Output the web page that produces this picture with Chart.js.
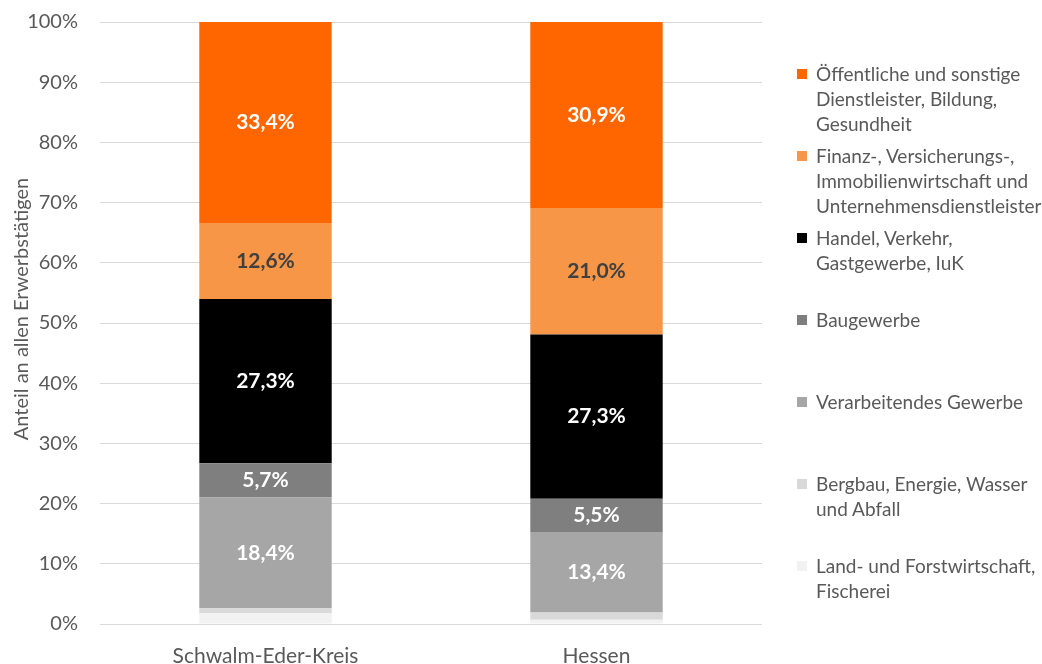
<!DOCTYPE html>
<html>
<head>
<meta charset="utf-8">
<script src="https://cdn.jsdelivr.net/npm/chart.js@4/dist/chart.umd.min.js"></script>
<style>
  html, body { margin: 0; padding: 0; background: #fff; }
  #wrap { position: relative; width: 1042px; height: 664px; }
  #legend { position: absolute; left: 797px; top: 61px; font-family: Lato, sans-serif; font-size: 19px; color: #595959; }
  .item { position: relative; height: 82px; padding-left: 19px; line-height: 25px; white-space: nowrap; }
  .box { position: absolute; left: 0; top: 8px; width: 10px; height: 10px; }
</style>
</head>
<body>
<div id="wrap">
  <canvas id="chart" width="1042" height="664"></canvas>
  <div id="legend"></div>
</div>
<script>
const categories = ['Schwalm-Eder-Kreis', 'Hessen'];

// von unten nach oben gestapelt
const seriesLabels = [
    ['Land- und Forstwirtschaft,', 'Fischerei'],
    ['Bergbau, Energie, Wasser', 'und Abfall'],
    ['Verarbeitendes Gewerbe'],
    ['Baugewerbe'],
    ['Handel, Verkehr,', 'Gastgewerbe, IuK'],
    ['Finanz-, Versicherungs-,', 'Immobilienwirtschaft und', 'Unternehmensdienstleister'],
    ['Öffentliche und sonstige', 'Dienstleister, Bildung,', 'Gesundheit']
];
const landwirtschaft = [1.8, 0.7];
const bergbau = [0.8, 1.2];
const verarbeitend = [18.4, 13.4];
const baugewerbe = [5.7, 5.5];
const handel = [27.3, 27.3];
const finanz = [12.6, 21.0];
const oeffentlich = [33.4, 30.9];
const yTicks = [0, 10, 20, 30, 40, 50, 60, 70, 80, 90, 100];
const yTitle = 'Anteil an allen Erwerbstätigen';

const seriesValues = [landwirtschaft, bergbau, verarbeitend, baugewerbe, handel, finanz, oeffentlich];
const colors = ['#F2F2F2', '#D9D9D9', '#A6A6A6', '#7F7F7F', '#000000', '#F79646', '#FF6600'];
const labelColors = [null, null, '#fff', '#fff', '#fff', '#404040', '#fff'];

const datasets = seriesValues.map((vals, i) => ({
    label: seriesLabels[i].join(' '),
    data: vals,
    backgroundColor: colors[i],
    borderWidth: 0,
    barPercentage: 0.4,
    categoryPercentage: 1.0
}));

const barLabels = {
    id: 'barLabels',
    afterDatasetsDraw(chart) {
        const ctx = chart.ctx;
        ctx.save();
        ctx.font = 'bold 21px Lato, sans-serif';
        ctx.textAlign = 'center';
        ctx.textBaseline = 'middle';
        chart.data.datasets.forEach((ds, i) => {
            if (!labelColors[i]) return;
            chart.getDatasetMeta(i).data.forEach((bar, j) => {
                ctx.fillStyle = labelColors[i];
                let txt = ds.data[j].toFixed(1).replace('.', ',') + '%';
                ctx.fillText(txt, bar.x, (bar.y + bar.base) / 2);
            });
        });
        // Achsentitel, etwas oberhalb der Mitte wie im Original
        ctx.translate(22, 309);
        ctx.rotate(-Math.PI / 2);
        ctx.font = '20px Lato, sans-serif';
        ctx.fillStyle = '#595959';
        ctx.fillText(yTitle, 0, 0);
        ctx.restore();
    }
};

new Chart(document.getElementById('chart'), {
    type: 'bar',
    data: { labels: categories, datasets: datasets },
    options: {
        responsive: false,
        animation: false,
        layout: { padding: { top: 0, right: 280, left: 0, bottom: 0 } },
        plugins: { legend: { display: false }, tooltip: { enabled: false } },
        scales: {
            x: {
                stacked: true,
                grid: { display: false },
                border: { display: false },
                ticks: { color: '#595959', font: { family: 'Lato', size: 21 }, padding: 12 },
                afterFit(scale) { scale.height = 40; }
            },
            y: {
                stacked: true,
                min: 0,
                max: 100,
                afterBuildTicks(scale) { scale.ticks = yTicks.map(v => ({ value: v })); },
                grid: { color: '#D9D9D9', drawTicks: false },
                border: { display: false },
                ticks: { color: '#595959', font: { family: 'Lato', size: 20 }, padding: 22, callback: v => v + '%' },
                afterFit(scale) {
                    scale.width = 100;
                    scale.paddingTop = 22;
                    scale.paddingBottom = 12;
                }
            }
        }
    },
    plugins: [barLabels]
});

// Legende (oberster Stapel zuerst)
const legend = document.getElementById('legend');
for (let i = seriesLabels.length - 1; i >= 0; i--) {
    const item = document.createElement('div');
    item.className = 'item';
    item.innerHTML = '<span class="box" style="background:' + colors[i] + '"></span>' + seriesLabels[i].join('<br>');
    legend.appendChild(item);
}
</script>
</body>
</html>
